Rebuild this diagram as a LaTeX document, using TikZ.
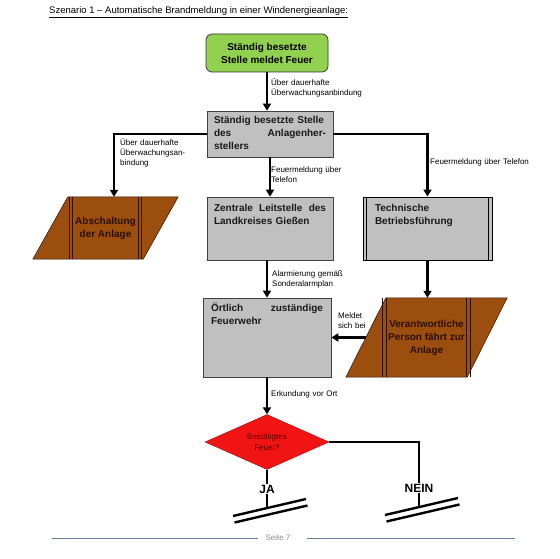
\documentclass[tikz,border=0pt]{standalone}
\usepackage{fontspec}
\setmainfont{Liberation Sans}
\usetikzlibrary{arrows.meta,shapes.geometric,calc,backgrounds}

\definecolor{flowgreen}{RGB}{146,208,80}
\definecolor{flowgray}{RGB}{192,192,192}
\definecolor{flowbrown}{RGB}{155,78,14}
\definecolor{flowred}{RGB}{240,20,20}
\definecolor{darkbrown}{RGB}{45,15,0}
\definecolor{darkred}{RGB}{95,0,0}
\definecolor{footblue}{RGB}{95,125,150}

\begin{document}
\begin{tikzpicture}[x=1pt, y=-1pt, every node/.style={inner sep=0pt},
   boxtext/.style={font=\fontsize{10}{13}\selectfont\bfseries},
   procbox/.style={rectangle, draw=black!75, line width=0.7pt, fill=flowgray, boxtext,
      text=black!90, align=left, text width=112pt, inner xsep=7pt, inner ysep=3pt},
   manual/.style={rectangle, boxtext, text=darkbrown, align=center},
   dline/.style={draw=darkbrown, line width=1.2pt},
   lbl/.style={font=\fontsize{8}{10}\selectfont, anchor=base west, align=left, text width=110pt},
   arr/.style={line width=2.6pt, -{Triangle[width=8pt,length=7pt]}},
   bar/.style={line width=2.4pt}]

      \node[font=\fontsize{9.5}{11}\selectfont, anchor=base west] (titel) at (49,14)
         {\underline{Szenario 1 – Automatische Brandmeldung in einer Windenergieanlage:}};

      \node[rectangle, rounded corners=6pt, draw=black!80, line width=0.7pt, fill=flowgreen,
         boxtext, align=center, minimum width=122pt, minimum height=38pt] (melder) at (267,53)
         {Ständig besetzte\\Stelle meldet Feuer};
      \node[procbox, text height=9.6pt, text depth=30.4pt] (hersteller) at (270,134)
         {Ständig besetzte Stelle\\des\hfill Anlagenher-\\stellers};
      \node[manual, minimum width=145pt, minimum height=62pt] (abschalt) at (105.5,228)
         {Abschaltung\\der Anlage};
      \node[procbox, text height=11.3pt, text depth=45.7pt] (leitstelle) at (270,228.5)
         {Zentrale\hfill Leitstelle\hfill des\\Landkreises Gießen};
      \node[procbox, draw=black, line width=0.9pt, inner xsep=12pt, text width=105pt,
         text height=11.3pt, text depth=45.7pt] (betrieb) at (427.5,228.5)
         {Technische\\Betriebsführung};
      \node[procbox, inner xsep=8pt, text height=10.9pt, text depth=62.1pt] (feuerwehr) at (267,337.5)
         {Örtlich\hfill zuständige\\Feuerwehr};
      \node[manual, minimum width=161pt, minimum height=79pt] (person) at (426.5,337.5)
         {Verantwortliche\\Person fährt zur\\Anlage};
      \node[diamond, fill=flowred, draw=flowred!70!black, line width=0.4pt, aspect=2.25,
         minimum width=124pt, minimum height=55pt, font=\fontsize{8}{10.5}\selectfont,
         text=darkred, align=center] (pruefung) at (267,442) {Bestätigtes\\Feuer?};

      \coordinate (ja) at (267,508);
      \coordinate (nein) at (419,507);

      % Hintergrund und Parallelogramme
      \begin{scope}[on background layer]
         \fill[white] (0,0) rectangle (560,559);
         \filldraw[fill=flowbrown, draw=darkbrown, line width=0.5pt]
            ([xshift=35pt]abschalt.north west) -- (abschalt.north east)
            -- ([xshift=-35pt]abschalt.south east) -- (abschalt.south west) -- cycle;
         \filldraw[fill=flowbrown, draw=darkbrown, line width=0.5pt]
            ([xshift=40pt]person.north west) -- (person.north east)
            -- ([xshift=-40pt]person.south east) -- (person.south west) -- cycle;
      \end{scope}
      \foreach \d in {37,40,106,109}
         \draw[dline] ([xshift=\d pt]abschalt.north west) -- ([xshift=\d pt]abschalt.south west);
      \foreach \d in {37,41,121,125}
         \draw[dline] ([xshift=\d pt]person.north west) -- ([xshift=\d pt]person.south west);
      \draw[line width=0.8pt] ([xshift=4pt]betrieb.north west) -- ([xshift=4pt]betrieb.south west);
      \draw[line width=0.8pt] ([xshift=-4pt]betrieb.north east) -- ([xshift=-4pt]betrieb.south east);

      \path[arr]
         (melder) edge (melder |- hersteller.north)
         (hersteller) edge (hersteller |- leitstelle.north)
         (leitstelle.south -| feuerwehr.north) edge (feuerwehr.north)
         (betrieb) edge (betrieb |- person.north)
         ([xshift=20pt]person.west) edge (feuerwehr.east)
         (feuerwehr) edge (feuerwehr |- pruefung.north);
      \draw[arr] (hersteller.west) -| ([xshift=8.5pt]abschalt.north);
      \draw[arr] (hersteller.east) -| (betrieb.north);

      \draw[bar] (pruefung.south) -- (ja);
      \draw[bar] (pruefung.east) -| (nein);
      \draw[bar] ($(ja)+(-34,8)$) -- ($(ja)+(39,-9)$);
      \draw[bar] ($(ja)+(-32.5,14.5)$) -- ($(ja)+(40.5,-2.5)$);
      \draw[bar] ($(nein)+(-34,8)$) -- ($(nein)+(39,-9)$);
      \draw[bar] ($(nein)+(-32.5,14.5)$) -- ($(nein)+(40.5,-2.5)$);
      \node[fill=white, inner sep=1pt, font=\fontsize{12}{14}\selectfont\bfseries] (jatext) at (267,489) {JA};
      \node[fill=white, inner sep=1pt, font=\fontsize{12}{14}\selectfont\bfseries] (neintext) at (419,488) {NEIN};

      \node[lbl] (l1) at (271,86) {Über dauerhafte\\Überwachungsanbindung};
      \node[lbl] (l2) at (120,146) {Über dauerhafte\\Überwachungsan-\\bindung};
      \node[lbl] (l3) at (271,173) {Feuermeldung über\\Telefon};
      \node[lbl] (l4) at (430,165) {Feuermeldung über Telefon};
      \node[lbl] (l5) at (272,276) {Alarmierung gemäß\\Sonderalarmplan};
      \node[lbl] (l6) at (338,318) {Meldet\\sich bei};
      \node[lbl] (l7) at (271,396) {Erkundung vor Ort};

      % Fusszeile
      \draw[footblue, line width=0.6pt] (52,538) -- (258,538);
      \node[font=\fontsize{8}{10}\selectfont, text=black!45] (seite) at (278,538) {Seite 7};
      \draw[footblue, line width=0.6pt] (307,538) -- (515,538);

      \useasboundingbox (0,0) rectangle (560,559);
   \end{tikzpicture}
\end{document}
